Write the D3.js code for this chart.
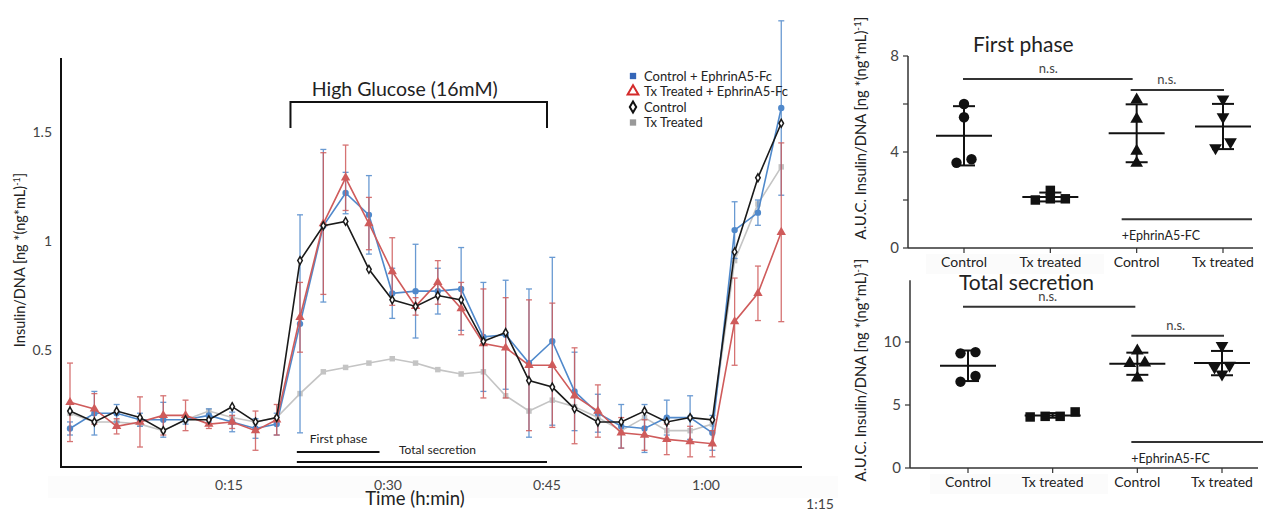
<!DOCTYPE html>
<html>
<head>
<meta charset="utf-8">
<script src="https://cdn.jsdelivr.net/npm/d3@7"></script>
<style>
body { margin: 0; background: #fff; }
svg text { font-family: Lato, "Open Sans", sans-serif; fill: #222; }
</style>
</head>
<body>
<div id="viz"></div>
<script>
// ---- time course (minutes) ----
let times = [0, 2.3, 4.4, 6.6, 8.8, 10.9, 13.1, 15.3, 17.5, 19.5, 21.7, 23.9, 26.0, 28.2, 30.4, 32.6,
             34.7, 36.9, 39.0, 41.1, 43.3, 45.5, 47.6, 49.8, 52.0, 54.2, 56.3, 58.5, 60.6, 62.7, 64.9, 67.1];

let ctrl_eph = [0.14, 0.21, 0.21, 0.18, 0.18, 0.18, 0.20, 0.17, 0.14, 0.16, 0.62, 1.07, 1.22, 1.12, 0.76, 0.77,
                0.77, 0.78, 0.56, 0.57, 0.44, 0.54, 0.31, 0.21, 0.15, 0.14, 0.19, 0.19, 0.12, 1.05, 1.13, 1.61];
let ctrl_eph_err = [0.03, 0.10, 0.04, 0.03, 0.08, 0.02, 0.03, 0.045, 0.045, 0.05, 0.50, 0.35, 0.095, 0.18, 0.115, 0.215,
                    0.105, 0.19, 0.25, 0.25, 0.34, 0.385, 0.18, 0.087, 0.10, 0.11, 0.08, 0.10, 0.08, 0.13, 0.058, 0.40];

let tx_eph = [0.26, 0.23, 0.15, 0.17, 0.20, 0.20, 0.16, 0.17, 0.13, 0.18, 0.65, 1.08, 1.29, 1.08, 0.86, 0.70,
              0.81, 0.69, 0.53, 0.51, 0.43, 0.43, 0.29, 0.22, 0.12, 0.11, 0.09, 0.08, 0.07, 0.63, 0.76, 1.04];
let tx_eph_err = [0.18, 0.07, 0.035, 0.115, 0.09, 0.07, 0.02, 0.03, 0.09, 0.07, 0.16, 0.325, 0.15, 0.12, 0.155, 0.04,
                  0.10, 0.12, 0.25, 0.23, 0.30, 0.285, 0.22, 0.12, 0.07, 0.07, 0.07, 0.07, 0.06, 0.20, 0.125, 0.41];

let ctrl = [0.22, 0.17, 0.22, 0.19, 0.13, 0.18, 0.18, 0.24, 0.17, 0.19, 0.91, 1.07, 1.09, 0.87, 0.73, 0.70,
            0.75, 0.73, 0.54, 0.58, 0.36, 0.33, 0.23, 0.17, 0.17, 0.22, 0.17, 0.19, 0.18, 0.95, 1.29, 1.54];

let tx = [0.21, 0.17, 0.17, 0.16, 0.13, 0.18, 0.22, 0.19, 0.17, 0.19, 0.30, 0.40, 0.42, 0.44, 0.46, 0.44,
          0.41, 0.39, 0.40, 0.29, 0.22, 0.27, 0.24, 0.19, 0.13, 0.19, 0.13, 0.13, 0.16, 0.91, 1.17, 1.34];

let series_names = ["Control + EphrinA5-Fc", "Tx Treated + EphrinA5-Fc", "Control", "Tx Treated"];
let x_tick_vals = [15, 30, 45, 60, 75];
let x_tick_labels = ["0:15", "0:30", "0:45", "1:00", "1:15"];
let y_tick_vals = [0.5, 1, 1.5];

let glucose_window = [20.8, 45];
let first_phase_window = [21.4, 29.2];
let total_window = [21.4, 45];

// ---- AUC panels ----
let auc_groups = ["Control", "Tx treated", "Control", "Tx treated"];
let first_phase_auc = [[6.0, 5.45, 3.7, 3.55], [2.4, 2.05, 2.0, 2.05], [6.17, 5.37, 4.04, 3.54], [6.2, 5.46, 4.42, 4.17]];
let total_auc = [[9.2, 9.1, 7.3, 6.85], [4.1, 4.05, 4.1, 4.45], [9.3, 8.35, 8.3, 7.15], [9.7, 8.15, 8.0, 7.45]];
let first_ticks = [0, 4, 8];
let total_ticks = [0, 5, 10];

let W = 1282, H = 512;
let svg = d3.select("#viz").append("svg").attr("width", W).attr("height", H);

// ================= left: time course =================
let x = d3.scaleLinear().domain([0, 75]).range([70, 865]);
let y = d3.scaleLinear().domain([0, 1.5]).range([459, 132]);
let axis_left = 61, axis_right = 802, axis_bottom = 467, axis_top = 58;

// faint strip behind tick labels
svg.append("rect").attr("x", 48).attr("y", 476).attr("width", 790).attr("height", 22).attr("fill", "#fcfcfc");

svg.append("line").attr("x1", axis_left).attr("x2", axis_left).attr("y1", axis_top).attr("y2", axis_bottom + 1)
    .attr("stroke", "#111").attr("stroke-width", 2);
svg.append("line").attr("x1", axis_left).attr("x2", axis_right).attr("y1", axis_bottom).attr("y2", axis_bottom)
    .attr("stroke", "#111").attr("stroke-width", 2);

svg.selectAll(".ytl").data(y_tick_vals).enter().append("text")
    .attr("x", 52).attr("y", d => y(d) + 5).attr("text-anchor", "end")
    .style("font-size", "14px").style("fill", "#444").text(d => d);

svg.selectAll(".xtl").data(x_tick_vals).enter().append("text")
    .attr("x", (d, i) => i == 4 ? x(d) - 45 : x(d))
    .attr("y", (d, i) => i == 4 ? 509 : 490)
    .attr("text-anchor", "middle").style("font-size", "14px").style("fill", "#444")
    .text((d, i) => x_tick_labels[i]);

svg.append("text").attr("x", 415).attr("y", 505).attr("text-anchor", "middle")
    .style("font-size", "18.5px").text("Time (h:min)");

let ylab = svg.append("text").attr("transform", "translate(25,260) rotate(-90)")
    .attr("text-anchor", "middle").style("font-size", "14.5px");
ylab.append("tspan").text("Insulin/DNA  [ng *(ng*mL)");
ylab.append("tspan").attr("dy", -5).style("font-size", "9px").text("-1");
ylab.append("tspan").attr("dy", 5).text("]");

// series
let series = [
    {name: series_names[3], vals: tx, err: null, color: "#c4c4c4", marker: "square"},
    {name: series_names[0], vals: ctrl_eph, err: ctrl_eph_err, color: "#5089cb", marker: "circle"},
    {name: series_names[1], vals: tx_eph, err: tx_eph_err, color: "#cf5b5b", marker: "triangle"},
    {name: series_names[2], vals: ctrl, err: null, color: "#1a1a1a", marker: "diamond"}
];

let line = d3.line().x((d, i) => x(times[i])).y(d => y(d));

series.forEach(function(s){
    let g = svg.append("g");
    if (s.err) {
        let eg = g.selectAll(".err").data(s.vals).enter().append("g")
            .attr("stroke", s.color).attr("stroke-width", 1.3).attr("opacity", 0.85);
        eg.append("line").attr("x1", (d, i) => x(times[i])).attr("x2", (d, i) => x(times[i]))
            .attr("y1", (d, i) => y(d + s.err[i])).attr("y2", (d, i) => y(d - s.err[i]));
        eg.append("line").attr("x1", (d, i) => x(times[i]) - 3).attr("x2", (d, i) => x(times[i]) + 3)
            .attr("y1", (d, i) => y(d + s.err[i])).attr("y2", (d, i) => y(d + s.err[i]));
        eg.append("line").attr("x1", (d, i) => x(times[i]) - 3).attr("x2", (d, i) => x(times[i]) + 3)
            .attr("y1", (d, i) => y(d - s.err[i])).attr("y2", (d, i) => y(d - s.err[i]));
    }
    g.append("path").datum(s.vals).attr("d", line).attr("fill", "none")
        .attr("stroke", s.color).attr("stroke-width", 1.6);
    let sym, fill = s.color, stroke = "none";
    if (s.marker == "square") sym = d3.symbol(d3.symbolSquare, 30);
    else if (s.marker == "circle") sym = d3.symbol(d3.symbolCircle, 32);
    else if (s.marker == "triangle") sym = d3.symbol(d3.symbolTriangle, 38);
    else { sym = d3.symbol(d3.symbolDiamond, 18); fill = "#fff"; stroke = s.color; }
    g.selectAll(".pt").data(s.vals).enter().append("path")
        .attr("d", sym).attr("transform", (d, i) => "translate(" + x(times[i]) + "," + y(d) + ")")
        .attr("fill", fill).attr("stroke", stroke).attr("stroke-width", 1.5);
});

// glucose bracket
let gy1 = y(1.638), gy2 = y(1.518);
svg.append("path")
    .attr("d", "M" + x(glucose_window[0]) + "," + gy2 + "V" + gy1 + "H" + x(glucose_window[1]) + "V" + gy2)
    .attr("fill", "none").attr("stroke", "#111").attr("stroke-width", 2);
svg.append("text").attr("x", (x(glucose_window[0]) + x(glucose_window[1])) / 2 - 14).attr("y", gy1 - 6)
    .attr("text-anchor", "middle").style("font-size", "19.5px").text("High Glucose (16mM)");

// phase bars
svg.append("line").attr("x1", x(first_phase_window[0])).attr("x2", x(first_phase_window[1]))
    .attr("y1", y(0.032)).attr("y2", y(0.032)).attr("stroke", "#111").attr("stroke-width", 2);
svg.append("text").attr("x", x(first_phase_window[0]) + 13).attr("y", y(0.032) - 9)
    .style("font-size", "12px").text("First phase");
svg.append("line").attr("x1", x(total_window[0])).attr("x2", x(total_window[1]))
    .attr("y1", y(-0.014)).attr("y2", y(-0.014)).attr("stroke", "#111").attr("stroke-width", 2);
svg.append("text").attr("x", 399).attr("y", y(-0.014) - 8)
    .style("font-size", "12px").text("Total secretion");

// legend
let leg = svg.append("g").attr("transform", "translate(633,76)");
let leg_items = [
    {name: series_names[0], sym: d3.symbol(d3.symbolSquare, 40), fill: "#3566b8", stroke: "none"},
    {name: series_names[1], sym: d3.symbol(d3.symbolTriangle, 50), fill: "none", stroke: "#d42a2a"},
    {name: series_names[2], sym: d3.symbol(d3.symbolDiamond, 36), fill: "#fff", stroke: "#111"},
    {name: series_names[3], sym: d3.symbol(d3.symbolSquare, 40), fill: "#999", stroke: "none"}
];
leg.selectAll("g").data(leg_items).enter().append("g")
    .attr("transform", (d, i) => "translate(0," + (i * 15.5) + ")")
    .each(function(d){
        let gg = d3.select(this);
        gg.append("path").attr("d", d.sym).attr("fill", d.fill).attr("stroke", d.stroke).attr("stroke-width", 2);
        gg.append("text").attr("x", 11).attr("y", 4.5).style("font-size", "13px").text(d.name);
    });

// ================= right: AUC dot plots =================
function cluster_offsets(vals, ys, gap, w){
    let idx = vals.map((v, i) => i).sort((a, b) => vals[a] - vals[b]);
    let offs = new Array(vals.length).fill(0);
    let groups = [[idx[0]]];
    for (let k = 1; k < idx.length; k++) {
        let last = groups[groups.length - 1];
        if (Math.abs(ys(vals[idx[k]]) - ys(vals[last[last.length - 1]])) < gap) last.push(idx[k]);
        else groups.push([idx[k]]);
    }
    groups.forEach(function(gr){
        gr.forEach((j, n) => { offs[j] = (n - (gr.length - 1) / 2) * w; });
    });
    return offs;
}

function draw_auc(cfg){
    let xs = d3.scalePoint().domain(d3.range(auc_groups.length)).range(cfg.xr);
    let ys = d3.scaleLinear().domain([0, cfg.yunit]).range(cfg.yr);
    let g = svg.append("g");

    if (cfg.label_box) {
        g.append("rect").attr("x", cfg.xr[0] - 38).attr("y", ys(0) + 6).attr("width", 178).attr("height", 20)
            .attr("fill", "#fbfbfb");
    }
    g.append("line").attr("x1", cfg.ax).attr("x2", cfg.ax).attr("y1", ys(0)).attr("y2", ys(cfg.ytop))
        .attr("stroke", "#333").attr("stroke-width", 1.5);
    g.append("line").attr("x1", cfg.ax).attr("x2", cfg.xend).attr("y1", ys(0)).attr("y2", ys(0))
        .attr("stroke", "#333").attr("stroke-width", 1.5);
    g.selectAll(".tk").data(cfg.minor).enter().append("line")
        .attr("x1", cfg.ax - 5).attr("x2", cfg.ax).attr("y1", d => ys(d)).attr("y2", d => ys(d))
        .attr("stroke", "#333").attr("stroke-width", 1.2);
    g.selectAll(".tl").data(cfg.ticks).enter().append("text")
        .attr("x", cfg.ax - 9).attr("y", d => ys(d) + 5).attr("text-anchor", "end")
        .style("font-size", "15px").style("fill", "#444").text(d => d);
    g.selectAll(".xt").data(auc_groups).enter().append("line")
        .attr("x1", (d, i) => xs(i)).attr("x2", (d, i) => xs(i)).attr("y1", ys(0)).attr("y2", ys(0) + 5)
        .attr("stroke", "#333").attr("stroke-width", 1.2);
    g.selectAll(".xl").data(auc_groups).enter().append("text")
        .attr("x", (d, i) => xs(i)).attr("y", ys(0) + 19).attr("text-anchor", "middle")
        .style("font-size", "14px").text(d => d);

    g.append("text").attr("x", cfg.title_x).attr("y", cfg.title_y).style("font-size", cfg.title_size).text(cfg.title);

    let yl = g.append("text").attr("transform", "translate(866," + cfg.ylab_y + ") rotate(-90)")
        .attr("text-anchor", "middle").style("font-size", "14.8px");
    yl.append("tspan").text("A.U.C. Insulin/DNA  [ng *(ng*mL)");
    yl.append("tspan").attr("dy", -5).style("font-size", "10px").text("-1");
    yl.append("tspan").attr("dy", 5).text("]");

    let syms = [d3.symbol(d3.symbolCircle, 85), d3.symbol(d3.symbolSquare, 90),
                d3.symbol(d3.symbolTriangle, 70), d3.symbol(d3.symbolTriangle, 70)];

    cfg.data.forEach(function(vals, gi){
        let cx = xs(gi);
        let m = d3.mean(vals), sd = d3.deviation(vals);
        let offs = cluster_offsets(vals, ys, 6.5, 15);
        g.selectAll(".p" + gi).data(vals).enter().append("path")
            .attr("d", syms[gi])
            .attr("transform", (d, i) => "translate(" + (cx + offs[i]) + "," + ys(d) + ")" + (gi == 3 ? " rotate(180)" : ""))
            .attr("fill", "#111");
        g.append("line").attr("x1", cx).attr("x2", cx).attr("y1", ys(m + sd)).attr("y2", ys(m - sd))
            .attr("stroke", "#111").attr("stroke-width", 2);
        [m + sd, m - sd].forEach(v => g.append("line").attr("x1", cx - 11).attr("x2", cx + 11)
            .attr("y1", ys(v)).attr("y2", ys(v)).attr("stroke", "#111").attr("stroke-width", 2));
        g.append("line").attr("x1", cx - 28).attr("x2", cx + 28).attr("y1", ys(m)).attr("y2", ys(m))
            .attr("stroke", "#111").attr("stroke-width", 2);
    });

    // significance bars
    cfg.sig.forEach(function(s){
        g.append("line").attr("x1", xs(s.from) + s.dx[0]).attr("x2", xs(s.to) + s.dx[1])
            .attr("y1", ys(s.level)).attr("y2", ys(s.level)).attr("stroke", "#333").attr("stroke-width", 2);
        g.append("text").attr("x", (xs(s.from) + xs(s.to)) / 2 + s.tdx).attr("y", ys(s.level) - 6)
            .attr("text-anchor", "middle").style("font-size", "13px").style("fill", "#444").text("n.s.");
    });

    // EphrinA5 bar
    g.append("line").attr("x1", xs(2) + cfg.eph.dx[0]).attr("x2", xs(3) + cfg.eph.dx[1])
        .attr("y1", ys(cfg.eph.level)).attr("y2", ys(cfg.eph.level)).attr("stroke", "#333").attr("stroke-width", 2);
    g.append("text").attr("x", xs(2) + cfg.eph.dx[0]).attr("y", ys(cfg.eph.level) + 21)
        .style("font-size", "12.5px").text("+EphrinA5-FC");
}

draw_auc({
    data: first_phase_auc, xr: [964, 1223], yunit: 8, yr: [248, 56], ytop: 8,
    ax: 908, xend: 1253, ticks: first_ticks, minor: [0, 2, 4, 6, 8],
    title: "First phase", title_x: 973, title_y: 52, title_size: "21px", ylab_y: 128, label_box: true,
    sig: [{from: 0, to: 2, level: 7.04, dx: [-1, -4], tdx: -2}, {from: 2, to: 3, level: 6.58, dx: [-6, 1], tdx: -13}],
    eph: {level: 1.2, dx: [-15, 29]}
});

draw_auc({
    data: total_auc, xr: [968, 1222], yunit: 10, yr: [468, 342], ytop: 14.9,
    ax: 910, xend: 1258, ticks: total_ticks, minor: [0, 5, 10],
    title: "Total secretion", title_x: 959, title_y: 290, title_size: "21px", ylab_y: 370, label_box: true,
    sig: [{from: 0, to: 2, level: 12.8, dx: [-5, -2], tdx: -5}, {from: 2, to: 3, level: 10.5, dx: [-6, 2], tdx: -4}],
    eph: {level: 2.06, dx: [-6, 41]}
});
</script>
</body>
</html>
